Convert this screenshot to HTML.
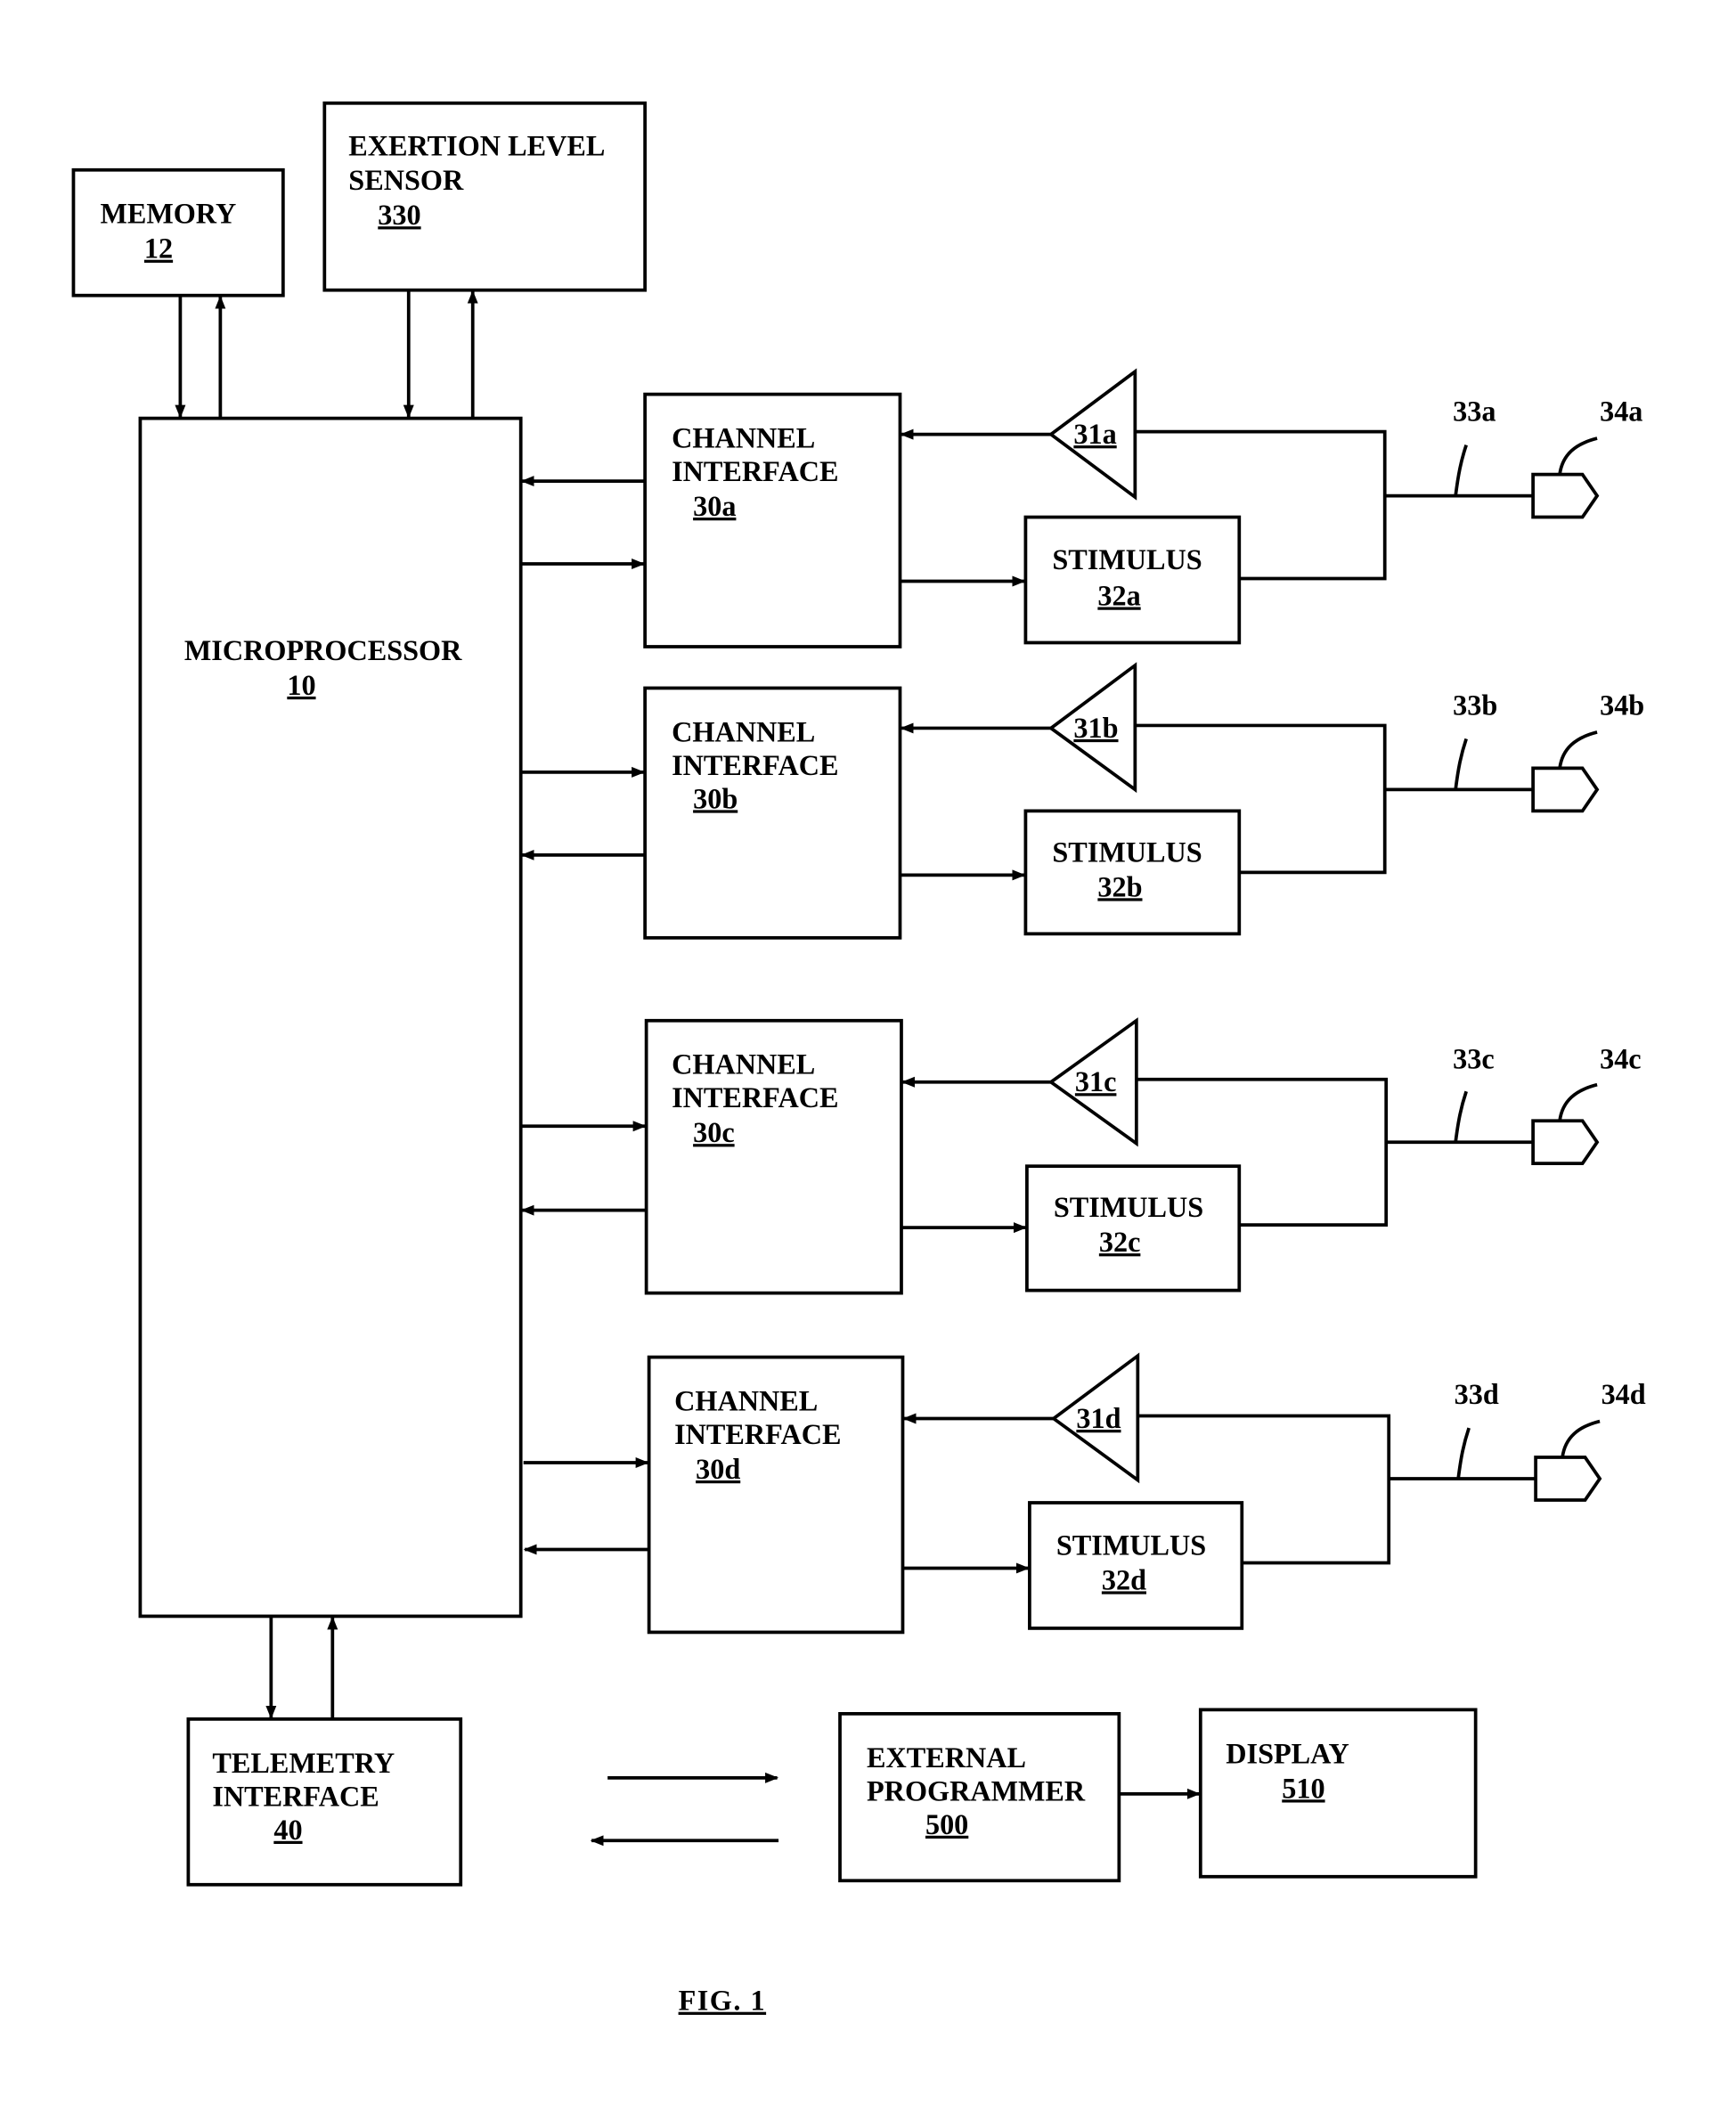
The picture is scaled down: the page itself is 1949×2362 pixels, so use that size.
<!DOCTYPE html>
<html><head><style>html,body{margin:0;padding:0;background:#fff}svg{display:block}
text{font-family:"Liberation Serif",serif;font-weight:bold;font-size:21.5px;fill:#000}
.u{text-decoration:underline}</style></head><body>
<svg width="1949" height="2362" viewBox="0 0 1300 1575" xmlns="http://www.w3.org/2000/svg">
<defs><marker id="a" markerWidth="10" markerHeight="10" refX="9" refY="5" orient="auto" markerUnits="userSpaceOnUse"><path d="M0,1 L10,5 L0,9 Z" fill="#000"/></marker></defs>
<g fill="none" stroke="#000" stroke-width="2.5">
<rect x="55" y="127" width="157" height="94"/>
<rect x="243" y="77" width="240" height="140"/>
<rect x="105" y="313" width="285" height="897"/>
<rect x="141" y="1287" width="204" height="124"/>
<rect x="629" y="1283" width="209" height="125"/>
<rect x="899" y="1280" width="206" height="125"/>
<line x1="135" y1="221" x2="135" y2="312" marker-end="url(#a)"/>
<line x1="165" y1="313" x2="165" y2="222" marker-end="url(#a)"/>
<line x1="306" y1="217" x2="306" y2="312" marker-end="url(#a)"/>
<line x1="354" y1="313" x2="354" y2="218" marker-end="url(#a)"/>
<line x1="203" y1="1210" x2="203" y2="1286" marker-end="url(#a)"/>
<line x1="249" y1="1287" x2="249" y2="1211" marker-end="url(#a)"/>
<line x1="455" y1="1331" x2="582" y2="1331" marker-end="url(#a)"/>
<line x1="583" y1="1378" x2="443" y2="1378" marker-end="url(#a)"/>
<line x1="838" y1="1343" x2="898" y2="1343" marker-end="url(#a)"/>
<!-- channel a -->
<rect x="483" y="295" width="191" height="189"/>
<line x1="483" y1="360" x2="391" y2="360" marker-end="url(#a)"/>
<line x1="390" y1="422" x2="482" y2="422" marker-end="url(#a)"/>
<path d="M850,278 L787,325 L850,372 Z"/>
<line x1="787" y1="325" x2="675" y2="325" marker-end="url(#a)"/>
<rect x="768" y="387" width="160" height="94"/>
<line x1="674" y1="435" x2="767" y2="435" marker-end="url(#a)"/>
<path d="M850,323 H1037 V433 H928 M1037,371 H1148"/>
<path d="M1148,355 H1185 L1196,371 L1185,387 H1148 Z"/>
<path d="M1090,371 C1092,355 1094,345 1098,333 M1168,355 C1170,340 1180,332 1196,328"/>
<!-- channel b -->
<rect x="483" y="515" width="191" height="187"/>
<line x1="390" y1="578" x2="482" y2="578" marker-end="url(#a)"/>
<line x1="483" y1="640" x2="391" y2="640" marker-end="url(#a)"/>
<path d="M850,498 L787,545 L850,591 Z"/>
<line x1="787" y1="545" x2="675" y2="545" marker-end="url(#a)"/>
<rect x="768" y="607" width="160" height="92"/>
<line x1="674" y1="655" x2="767" y2="655" marker-end="url(#a)"/>
<path d="M850,543 H1037 V653 H928 M1037,591 H1148"/>
<path d="M1148,575 H1185 L1196,591 L1185,607 H1148 Z"/>
<path d="M1090,591 C1092,575 1094,565 1098,553 M1168,575 C1170,560 1180,552 1196,548"/>
<!-- channel c -->
<rect x="484" y="764" width="191" height="204"/>
<line x1="390" y1="843" x2="483" y2="843" marker-end="url(#a)"/>
<line x1="484" y1="906" x2="391" y2="906" marker-end="url(#a)"/>
<path d="M851,764 L787,810 L851,856 Z"/>
<line x1="787" y1="810" x2="676" y2="810" marker-end="url(#a)"/>
<rect x="769" y="873" width="159" height="93"/>
<line x1="675" y1="919" x2="768" y2="919" marker-end="url(#a)"/>
<path d="M851,808 H1038 V917 H928 M1038,855 H1148"/>
<path d="M1148,839 H1185 L1196,855 L1185,871 H1148 Z"/>
<path d="M1090,855 C1092,839 1094,829 1098,817 M1168,839 C1170,824 1180,816 1196,812"/>
<!-- channel d -->
<rect x="486" y="1016" width="190" height="206"/>
<line x1="392" y1="1095" x2="485" y2="1095" marker-end="url(#a)"/>
<line x1="486" y1="1160" x2="393" y2="1160" marker-end="url(#a)"/>
<path d="M852,1015 L789,1062 L852,1108 Z"/>
<line x1="789" y1="1062" x2="677" y2="1062" marker-end="url(#a)"/>
<rect x="771" y="1125" width="159" height="94"/>
<line x1="676" y1="1174" x2="770" y2="1174" marker-end="url(#a)"/>
<path d="M852,1060 H1040 V1170 H930 M1040,1107 H1150"/>
<path d="M1150,1091 H1187 L1198,1107 L1187,1123 H1150 Z"/>
<path d="M1092,1107 C1094,1091 1096,1081 1100,1069 M1170,1091 C1172,1076 1182,1068 1198,1064"/>
</g>
<text x="75" y="167">MEMORY</text><text x="108" y="193" class="u">12</text>
<text x="261" y="116">EXERTION LEVEL</text><text x="261" y="142">SENSOR</text><text x="283" y="168" class="u">330</text>
<text x="138" y="494">MICROPROCESSOR</text><text x="215" y="520" class="u">10</text>
<text x="503" y="335">CHANNEL</text><text x="503" y="360">INTERFACE</text><text x="519" y="386" class="u">30a</text>
<text x="503" y="555">CHANNEL</text><text x="503" y="580">INTERFACE</text><text x="519" y="605" class="u">30b</text>
<text x="503" y="804">CHANNEL</text><text x="503" y="829">INTERFACE</text><text x="519" y="855" class="u">30c</text>
<text x="505" y="1056">CHANNEL</text><text x="505" y="1081">INTERFACE</text><text x="521" y="1107" class="u">30d</text>
<text x="804" y="332" class="u" font-size="19">31a</text>
<text x="804" y="552" class="u" font-size="19">31b</text>
<text x="805" y="817" class="u" font-size="19">31c</text>
<text x="806" y="1069" class="u" font-size="19">31d</text>
<text x="788" y="426">STIMULUS</text><text x="822" y="453" class="u">32a</text>
<text x="788" y="645">STIMULUS</text><text x="822" y="671" class="u">32b</text>
<text x="789" y="911">STIMULUS</text><text x="823" y="937" class="u">32c</text>
<text x="791" y="1164">STIMULUS</text><text x="825" y="1190" class="u">32d</text>
<text x="1088" y="315" font-size="19">33a</text><text x="1198" y="315" font-size="19">34a</text>
<text x="1088" y="535" font-size="19">33b</text><text x="1198" y="535" font-size="19">34b</text>
<text x="1088" y="800" font-size="19">33c</text><text x="1198" y="800" font-size="19">34c</text>
<text x="1089" y="1051" font-size="19">33d</text><text x="1199" y="1051" font-size="19">34d</text>
<text x="159" y="1327">TELEMETRY</text><text x="159" y="1352">INTERFACE</text><text x="205" y="1377" class="u">40</text>
<text x="649" y="1323">EXTERNAL</text><text x="649" y="1348">PROGRAMMER</text><text x="693" y="1373" class="u">500</text>
<text x="918" y="1320">DISPLAY</text><text x="960" y="1346" class="u">510</text>
<text x="508" y="1505" class="u" font-size="34" letter-spacing="1">FIG. 1</text>
</svg>
</body></html>
